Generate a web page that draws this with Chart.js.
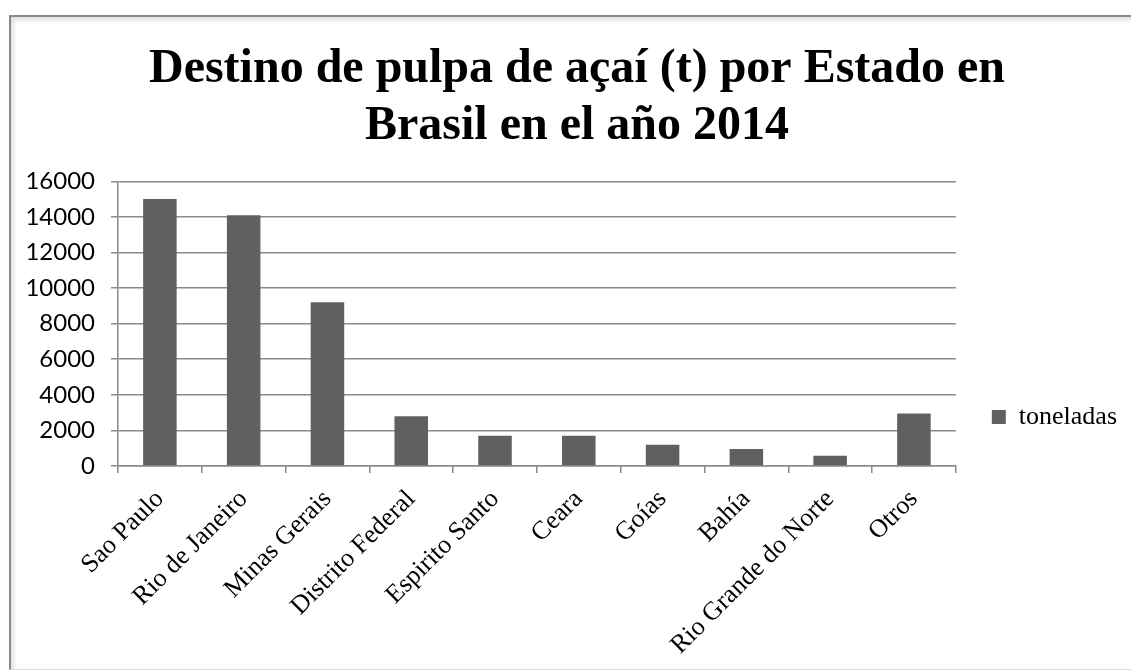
<!DOCTYPE html>
<html>
<head>
<meta charset="utf-8">
<title>Destino de pulpa de açaí</title>
<script src="https://cdn.jsdelivr.net/npm/chart.js@4.4.1/dist/chart.umd.min.js"></script>
<style>
	html, body { margin: 0; padding: 0; background: #fff; overflow: hidden; }
	#frame {
		position: absolute;
		left: 9px;
		top: 15px;
		width: 1140px;
		height: 652px;
		border-left: 2px solid #8a8a8a;
		border-top: 2px solid #8a8a8a;
		border-bottom: 1px solid #dcdcdc;
		box-shadow: inset 3px 3px 4px rgba(0, 0, 0, 0.12);
		background: #fff;
	}
	#bar-chartcanvas { display: block; }
</style>
</head>
<body>
<div id="frame">
	<canvas id="bar-chartcanvas" width="1132" height="652"></canvas>
</div>

<script>
// states that receive the pulp
var categories = ["Sao Paulo", "Rio de Janeiro", "Minas Gerais", "Distrito Federal", "Espirito Santo",
	"Ceara", "Goías", "Bahía", "Rio Grande do Norte", "Otros"];

// tonnes per state
var toneladas = [15000, 14100, 9200, 2800, 1700, 1700, 1200, 950, 580, 2950];

// y axis ticks
var yTicks = [0, 2000, 4000, 6000, 8000, 10000, 12000, 14000, 16000];

var titleLines = ["Destino de pulpa de açaí (t) por Estado en", "Brasil en el año 2014"];
var seriesName = "toneladas";

var gridGray = "#8a8a8a";
var serif = "'Liberation Serif', 'Times New Roman', serif";

window.onload = function() {

	var ctx = document.getElementById("bar-chartcanvas");

	var data = {
		labels : categories,
		datasets : [
			{
				label : seriesName,
				data : toneladas,
				backgroundColor : "#606060",
				borderWidth : 0,
				barPercentage : 0.4,
				categoryPercentage : 1.0
			}
		]
	};

	var options = {
		responsive : false,
		animation : false,
		devicePixelRatio : 1,
		layout : {
			padding : { left : 16, right : 16, top : 0, bottom : 15 }
		},
		plugins : {
			title : {
				display : true,
				position : "top",
				text : titleLines,
				color : "#000",
				font : { family : serif, size : 48, weight : "bold", lineHeight : 1.17 },
				padding : { top : 25, bottom : 27 }
			},
			legend : {
				display : true,
				position : "right",
				// only as tall as the plot, so "end" sits near the bottom of it
				fullSize : false,
				align : "end",
				labels : {
					color : "#000",
					font : { family : serif, size : 26 },
					boxWidth : 14,
					boxHeight : 14,
					padding : 36
				}
			},
			tooltip : { enabled : false }
		},
		scales : {
			x : {
				offset : true,
				grid : {
					offset : true,
					drawOnChartArea : false,
					drawTicks : true,
					tickLength : 7,
					color : gridGray,
					lineWidth : 1.5
				},
				border : { color : gridGray, width : 1.5 },
				ticks : {
					color : "#000",
					font : { family : serif, size : 26 },
					minRotation : 45,
					maxRotation : 45,
					autoSkip : false,
					padding : 11
				},
				afterFit : function(scale) {
					// keep the plot bottom where the reference has it
					scale.height = 188;
				}
			},
			y : {
				min : 0,
				max : 16000,
				grid : {
					color : gridGray,
					lineWidth : 1.5,
					drawTicks : true,
					tickLength : 7
				},
				border : { color : gridGray, width : 1.5 },
				ticks : {
					color : "#000",
					font : { family : "Lato, 'Open Sans', sans-serif", size : 24 },
					padding : 16,
					stepSize : 2000,
					callback : function(value) {
						return yTicks.indexOf(value) >= 0 ? String(value) : null;
					}
				},
				afterFit : function(scale) {
					scale.width = 91;
				}
			}
		}
	};

	var chart = new Chart(ctx, {
		type : "bar",
		data : data,
		options : options
	});
};
</script>
</body>
</html>
